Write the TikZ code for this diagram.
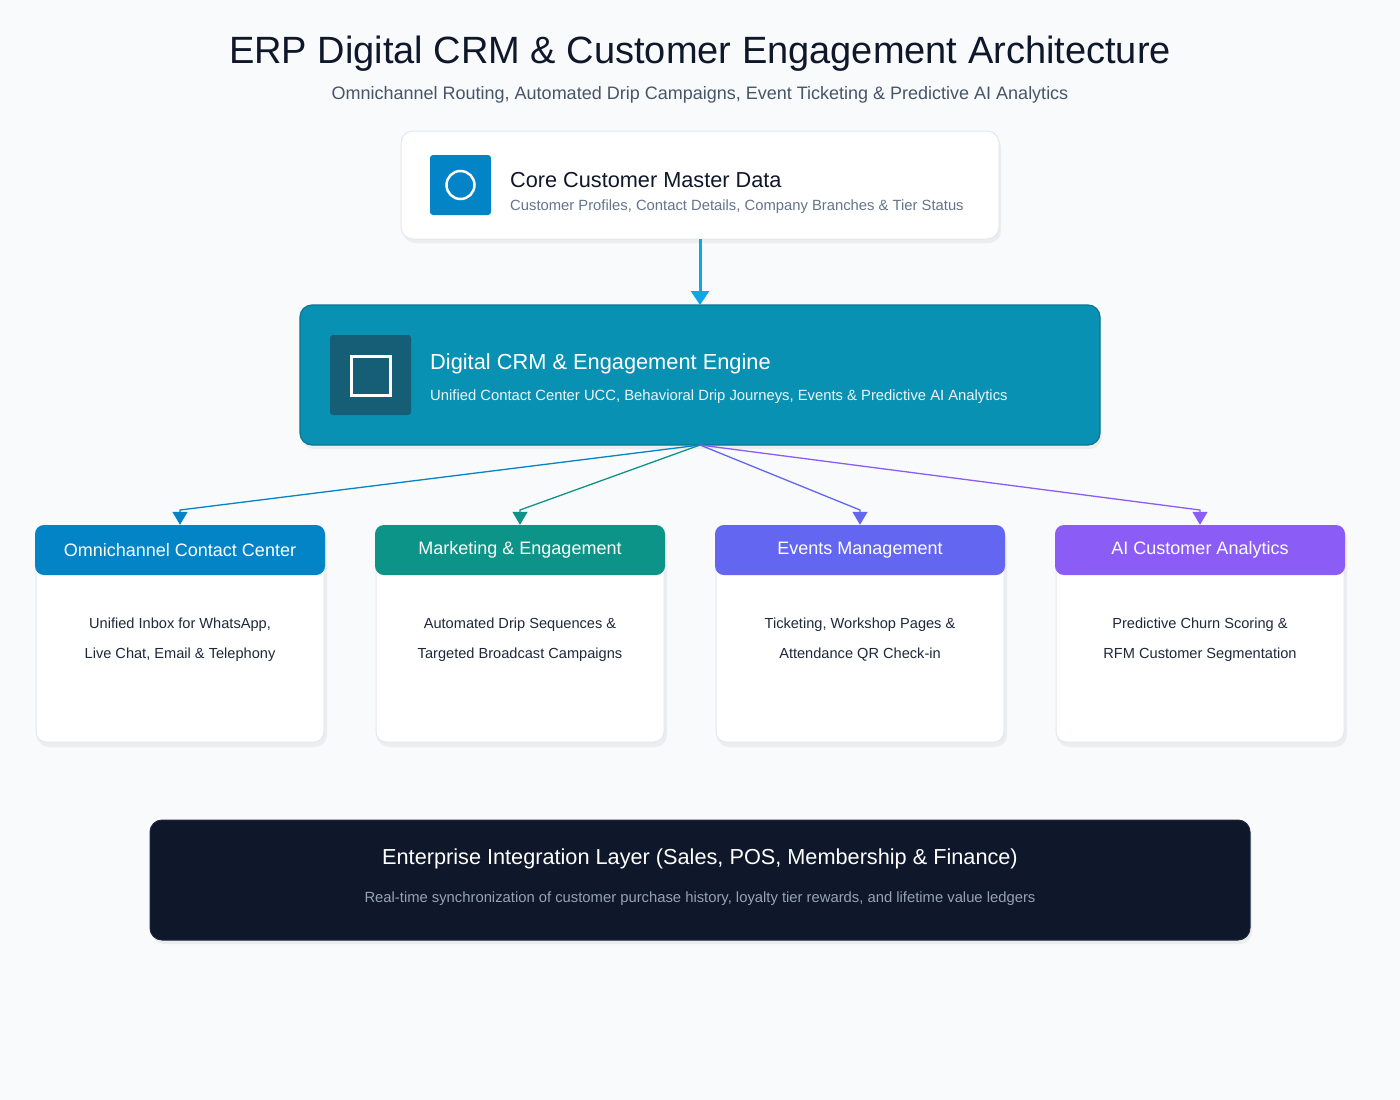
\documentclass[tikz,border=0pt]{standalone}
\usepackage{fontspec}
\setmainfont{Liberation Sans}
\usetikzlibrary{arrows.meta}
\definecolor{bg}{HTML}{F8FAFC}
\definecolor{ink}{HTML}{0F172A}
\definecolor{sub}{HTML}{475569}
\definecolor{gry}{HTML}{64748B}
\definecolor{bord}{HTML}{E2E8F0}
\definecolor{cblue}{HTML}{0284C7}
\definecolor{cteal}{HTML}{0D9488}
\definecolor{cindigo}{HTML}{6366F1}
\definecolor{cviolet}{HTML}{8B5CF6}
\definecolor{eng}{HTML}{0891B2}
\definecolor{engb}{HTML}{0E7490}
\definecolor{engi}{HTML}{155E75}
\definecolor{sky}{HTML}{0EA5E9}
\definecolor{body}{HTML}{1E293B}
\definecolor{light}{HTML}{94A3B8}
\tikzset{
 box/.style={rounded corners=12pt,draw=bord,fill=white,line width=1pt},
 hdr/.style={rounded corners=9pt,fill=#1,draw=none,minimum width=290pt,minimum height=50pt,text=white,font=\fontsize{18}{21}\selectfont},
 card/.style={rounded corners=10pt,fill=white,draw=bord,line width=1pt,minimum width=288pt,minimum height=216pt},
 bodytxt/.style={text=body,font=\fontsize{14.6}{30}\selectfont,align=center},
 link/.style={draw=#1,line width=1.3pt,-{Triangle[length=13pt,width=15pt]}},
 shadow/.style={fill=black,opacity=0.05,rounded corners=12pt},
}
\begin{document}
\begin{tikzpicture}[x=1pt,y=-1pt]
\useasboundingbox (0,0) rectangle (1400,1100);
\fill[bg] (0,0) rectangle (1400,1100);
\node (title) at (700,54) {\fontsize{38}{42}\selectfont\color{ink}ERP Digital CRM \& Customer Engagement Architecture};
\node (subtitle) at (700,94.5) {\fontsize{18}{21}\selectfont\color{sub}Omnichannel Routing, Automated Drip Campaigns, Event Ticketing \& Predictive AI Analytics};
% core
\fill[shadow] (403,135) rectangle (1001,243);
\draw[box] (401,131) rectangle (999,239);
\coordinate (coreS) at (700,239);
\node[fill=cblue,rounded corners=3pt,minimum width=61pt,minimum height=60pt] (coreicon) at (460.5,185) {};
\draw[white,line width=2.5pt] (coreicon.center) circle (14pt);
\node[anchor=west,inner sep=0] (coret) at (510,180) {\fontsize{21.7}{24}\selectfont\color{ink}Core Customer Master Data};
\node[anchor=west,inner sep=0] (cores) at (510,207) {\fontsize{14.8}{17}\selectfont\color{gry}Customer Profiles, Contact Details, Company Branches \& Tier Status};
% engine
\fill[shadow] (302,309) rectangle (1102,449);
\draw[rounded corners=12pt,fill=eng,draw=engb,line width=1.2pt] (300,305) rectangle (1100,445);
\coordinate (engN) at (700,305);
\coordinate (engS) at (700,445);
\node[fill=engi,rounded corners=3pt,minimum width=81pt,minimum height=80pt] (engicon) at (370.5,375) {};
\draw[white,line width=3pt] (351,356) rectangle (390,395);
\node[anchor=west,inner sep=0] (engt) at (430,364) {\fontsize{21.8}{24}\selectfont\color{white}Digital CRM \& Engagement Engine};
\node[anchor=west,inner sep=0] (engs) at (430,397) {\fontsize{14.8}{17}\selectfont\color{white!92!eng}Unified Contact Center UCC, Behavioral Drip Journeys, Events \& Predictive AI Analytics};
\draw[link=sky,line width=3pt,-{Triangle[length=14pt,width=18pt]}] (coreS) -- (engN);
% cards
\foreach \cx/\col/\name/\ta/\tb/\id in {
180/cblue/Omnichannel Contact Center/{Unified Inbox for WhatsApp,}/{Live Chat, Email \& Telephony}/a,
520/cteal/Marketing \& Engagement/{Automated Drip Sequences \&}/{Targeted Broadcast Campaigns}/b,
860/cindigo/Events Management/{Ticketing, Workshop Pages \&}/{Attendance QR Check-in}/c,
1200/cviolet/AI Customer Analytics/{Predictive Churn Scoring \&}/{RFM Customer Segmentation}/d}{
 \fill[shadow] (\cx-143,529) rectangle (\cx+147,747);
 \node[card] (card\id) at (\cx,634) {};
 \node[hdr=\col] (hdr\id) at (\cx,550) {\name};
 \node[bodytxt] (txt\id) at (\cx,640) {\ta\\\tb};
 \draw[link=\col] (engS) -- (\cx,510) -- (hdr\id.north);
}
% bottom
\fill[shadow] (152,824) rectangle (1252,944);
\draw[rounded corners=12pt,fill=ink,draw=body,line width=1pt] (150,820) rectangle (1250,940);
\node (bt) at (700,859) {\fontsize{21.7}{24}\selectfont\color{white}Enterprise Integration Layer (Sales, POS, Membership \& Finance)};
\node (bs) at (700,899) {\fontsize{14.8}{17}\selectfont\color{light}Real-time synchronization of customer purchase history, loyalty tier rewards, and lifetime value ledgers};
\end{tikzpicture}
\end{document}
